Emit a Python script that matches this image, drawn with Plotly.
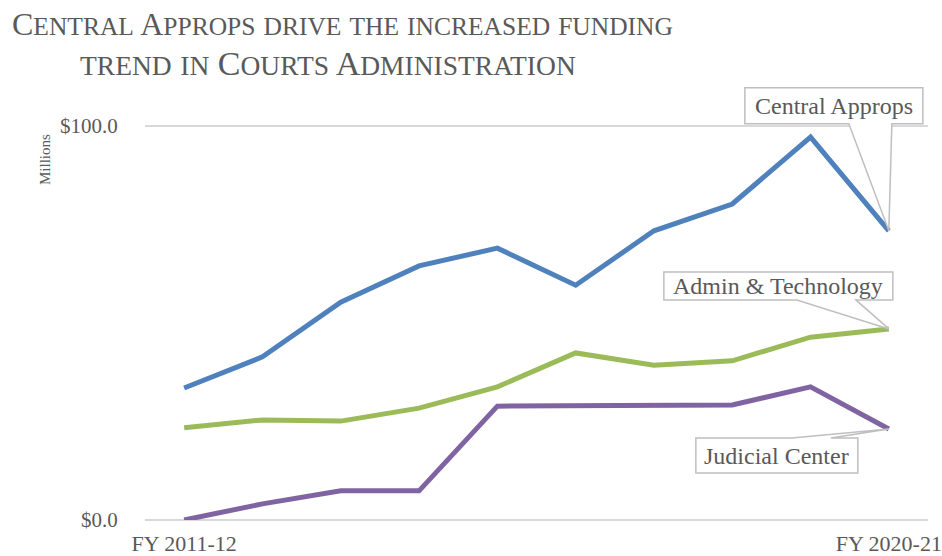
import plotly.graph_objects as go

# Fiscal years (only first and last are labelled on the axis)
years = ["FY 2011-12", "FY 2012-13", "FY 2013-14", "FY 2014-15", "FY 2015-16",
         "FY 2016-17", "FY 2017-18", "FY 2018-19", "FY 2019-20", "FY 2020-21"]

# Funding in $ millions
central_approps = [33.5, 41.4, 55.3, 64.5, 69.0, 59.6, 73.4, 80.2, 97.2, 73.4]
admin_technology = [23.4, 25.4, 25.1, 28.4, 33.8, 42.4, 39.3, 40.4, 46.4, 48.5]
judicial_center = [0.0, 4.1, 7.4, 7.4, 28.9, 28.9, 29.2, 29.2, 33.8, 23.1]

series_names = ["Central Approps", "Admin & Technology", "Judicial Center"]
series_values = [central_approps, admin_technology, judicial_center]
series_colors = ["#4F81BD", "#9BBB59", "#8064A2"]

y_ticks = [0, 100]
y_ticktext = ["$0.0", "$100.0"]

title_lines = ["Central Approps drive the increased funding",
               "trend in Courts Administration"]

FONT = "Liberation Serif, Times New Roman, serif"
GREY = "#595959"

# Plot-area geometry in pixels
W, H = 942, 556
L, R, T, B = 145, 14, 80, 36
PX_PER_UNIT = 3.94           # vertical pixels per $1M
y_top = (H - B - T) / PX_PER_UNIT
plot_w = W - L - R
plot_h = H - T - B


def small_caps(text, big, small):
    """Emulate small caps: capitals at full size, lower case as smaller capitals."""
    out = []
    for ch in text:
        if ch.islower():
            out.append(f"<span style='font-size:{small}px'>{ch.upper()}</span>")
        else:
            out.append(f"<span style='font-size:{big}px'>{ch}</span>")
    return "".join(out)


def px_to_paper(px, py):
    return (px - L) / plot_w, (H - B - py) / plot_h


xs = list(range(len(years)))

fig = go.Figure()
for name, vals, col in zip(series_names, series_values, series_colors):
    fig.add_trace(go.Scatter(x=xs, y=vals, mode="lines", name=name,
                             line=dict(color=col, width=5), cliponaxis=False))

# Callout shapes (box + pointer) drawn in pixel offsets from the last point
callouts = [
    ("Central Approps",
     [(0, 0), (-40, 107), (-144, 107), (-144, 143), (34, 143), (34, 107), (3, 107)],
     (-55, 125)),
    ("Admin & Technology",
     [(0, 0), (-33, 29), (4, 29), (4, 57), (-225, 57), (-225, 29), (-92, 29)],
     (-111, 43)),
    ("Judicial Center",
     [(0, 0), (-97, -9), (-193, -9), (-193, -44), (-31, -44), (-31, -9), (-58, -9)],
     (-112, -27)),
]

for (name, pts, shift), vals in zip(callouts, series_values):
    path = "M " + " L ".join(f"{dx},{dy}" for dx, dy in pts) + " Z"
    fig.add_shape(type="path", path=path,
                  xref="x", yref="y",
                  xsizemode="pixel", ysizemode="pixel",
                  xanchor=xs[-1], yanchor=vals[-1],
                  fillcolor="white", line=dict(color="#BFBFBF", width=1.5),
                  layer="above")
    fig.add_annotation(x=xs[-1], y=vals[-1], xref="x", yref="y",
                       text=name, showarrow=False,
                       xshift=shift[0], yshift=shift[1],
                       font=dict(family=FONT, size=24, color=GREY))

# Title, one annotation per line
title_layout = [((342, 24), 32, 25.5), ((328, 63), 34, 27.5)]
for line, ((cx, cy), big, small) in zip(title_lines, title_layout):
    ax, ay = px_to_paper(cx, cy)
    fig.add_annotation(
        x=ax, y=ay, xref="paper", yref="paper",
        xanchor="center", yanchor="middle",
        text=small_caps(line, big, small),
        showarrow=False, align="center",
        font=dict(family=FONT, size=big, color=GREY),
    )

mx, my = px_to_paper(45, 160)
fig.add_annotation(
    x=mx, y=my, xref="paper", yref="paper",
    xanchor="center", yanchor="middle",
    text="Millions", textangle=-90, showarrow=False,
    font=dict(family=FONT, size=15, color=GREY),
)

fig.update_layout(
    width=W, height=H,
    margin=dict(l=L, r=R, t=T, b=B),
    paper_bgcolor="white", plot_bgcolor="white",
    showlegend=False,
    xaxis=dict(range=[-0.5, 9.5], tickvals=[0, 9], ticktext=[years[0], years[-1]],
               showgrid=False, zeroline=False, showline=False, automargin=False,
               tickfont=dict(family=FONT, size=22, color=GREY),
               ticks="outside", ticklen=4, tickcolor="rgba(0,0,0,0)"),
    yaxis=dict(range=[0, y_top], tickvals=y_ticks, ticktext=y_ticktext,
               showgrid=True, gridcolor="#D9D9D9", gridwidth=1.5,
               zeroline=True, zerolinecolor="#D9D9D9", zerolinewidth=1.5,
               showline=False, automargin=False,
               tickfont=dict(family=FONT, size=21, color=GREY),
               ticks="outside", ticklen=22, tickcolor="rgba(0,0,0,0)"),
)

fig.write_html("out.html")
